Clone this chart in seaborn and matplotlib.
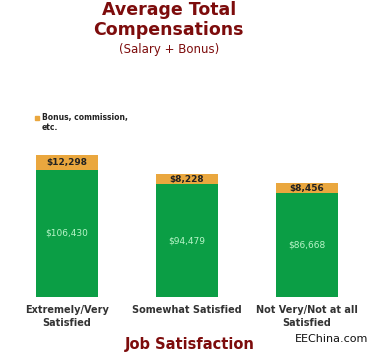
import matplotlib
matplotlib.use("Agg")
import matplotlib.pyplot as plt
import seaborn as sns

# data
categories = ["Extremely/Very\nSatisfied", "Somewhat Satisfied", "Not Very/Not at all\nSatisfied"]
salary = [106430, 94479, 86668]
bonus = [12298, 8228, 8456]
totals = [s + b for s, b in zip(salary, bonus)]

green = "#0b9e45"
orange = "#eaa73e"
dark_red = "#7d0c0c"

sns.set_theme(style="white")
plt.rcParams['font.family'] = ['DejaVu Sans']

fig = plt.figure(figsize=(3.75, 3.55), dpi=100)
ax = fig.add_axes([0, 1 - 297 / 355, 1, 200 / 355])

sns.barplot(x=categories, y=totals, color=orange, saturation=1, width=0.52,
            linewidth=0, ax=ax)
sns.barplot(x=categories, y=salary, color=green, saturation=1, width=0.52,
            linewidth=0, ax=ax)

ax.set_xlim(-0.56, 2.57)
ax.set_ylim(0, 200 / 1.196 * 1000)
for sp in ax.spines.values():
    sp.set_visible(False)
ax.set_yticks([])
ax.tick_params(axis="x", length=0, pad=6)
ax.set_xticks(range(len(categories)))
ax.set_xticklabels(categories, fontsize=7, fontweight="bold", color="#333333", linespacing=1.3)
ax.set_ylabel("")

for i, (s, b) in enumerate(zip(salary, bonus)):
    ax.text(i, s + b / 2, f"${b:,}", ha="center", va="center",
            fontsize=6.5, fontweight="bold", color="#222222")
    ax.text(i, s / 2, f"${s:,}", ha="center", va="center",
            fontsize=6.5, color="#b8f5c8")

# legend
fig.patches.append(plt.Rectangle((35 / 375, 1 - 120 / 355), 4 / 375, 4 / 355,
                                 transform=fig.transFigure, color=orange))
fig.text(42 / 375, 1 - 113 / 355, "Bonus, commission,\netc.", fontsize=5.5,
         fontweight="bold", color="#222222", va="top", linespacing=1.2)

fig.text(0.45, 1 - 10 / 355, "Average Total", ha="center", va="center",
         fontsize=12.5, fontweight="bold", color=dark_red)
fig.text(0.45, 1 - 30 / 355, "Compensations", ha="center", va="center",
         fontsize=12.5, fontweight="bold", color=dark_red)
fig.text(0.45, 1 - 50 / 355, "(Salary + Bonus)", ha="center", va="center",
         fontsize=8.5, color=dark_red)
fig.text(190 / 375, 1 - 344 / 355, "Job Satisfaction", ha="center", va="center",
         fontsize=10.5, fontweight="bold", color=dark_red)
fig.text(332 / 375, 1 - 339 / 355, "EEChina.com", ha="center", va="center",
         fontsize=8, color="#111111")

fig.savefig("out.png", dpi=100)
